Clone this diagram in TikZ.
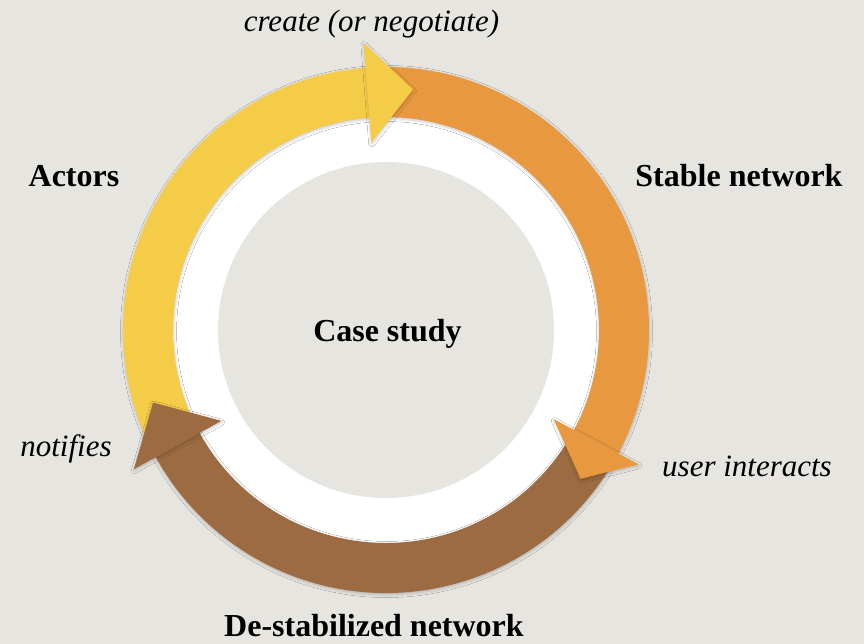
\documentclass[tikz,border=0pt]{standalone}
\usepackage{fontspec}
\setmainfont{Liberation Serif}
\usetikzlibrary{shadows.blur}
\definecolor{bg}{HTML}{E7E5E0}
\definecolor{yellowarc}{HTML}{F5CC48}
\definecolor{orangearc}{HTML}{E8983F}
\definecolor{brownarc}{HTML}{9C6B42}
\tikzset{
  band/.style={blur shadow={shadow blur radius=3pt, shadow xshift=0.5pt, shadow yshift=-1.5pt, shadow opacity=22}},
  stage/.style={font=\fontsize{32}{36}\selectfont\bfseries, anchor=base},
  move/.style={font=\fontsize{31}{36}\selectfont\itshape, anchor=base},
}
\begin{document}
\begin{tikzpicture}[x=1pt,y=1pt]
\fill [bg] (-386,-314) rectangle (478,330);
\useasboundingbox (-386,-314) rectangle (478,330);
\fill [white] (0,0) circle (213);
\fill [bg] (0,0) circle (168);
% bands
\fill [yellowarc, band] (208:263) arc [start angle=208, end angle=94.5, radius=263] -- (94.5:213) arc [start angle=94.5, end angle=208, radius=213] -- cycle;
\fill [orangearc, band] (93:263) arc [start angle=93, end angle=-28, radius=263] -- (-28:213) arc [start angle=-28, end angle=93, radius=213] -- cycle;
\fill [brownarc, band] (-29:263) arc [start angle=-29, end angle=-151.1, radius=263] -- (-151.1:213) arc [start angle=-151.1, end angle=-29, radius=213] -- cycle;
% heads
\fill [yellowarc, band] (94.5:188) -- (83.6:242) -- (94.5:288) -- cycle;
\fill [orangearc, band] (-28:190) -- (-37.4:245) -- (-28:286) -- cycle;
\fill [brownarc, band] (-151.1:188) -- (-162.7:244) -- (-151.1:288) -- cycle;
% labels
\node [stage] (case) at (1.5,-12) {Case study};
\node [stage] (actors) at (-312,143) {Actors};
\node [stage] (stable) at (353,143) {Stable network};
\node [stage] (destab) at (-12,-306) {De-stabilized network};
\node [move] (create) at (-14.5,298) {create (or negotiate)};
\node [move] (interacts) at (361,-147) {user interacts};
\node [move] (notifies) at (-320,-127) {notifies};
\end{tikzpicture}
\end{document}
